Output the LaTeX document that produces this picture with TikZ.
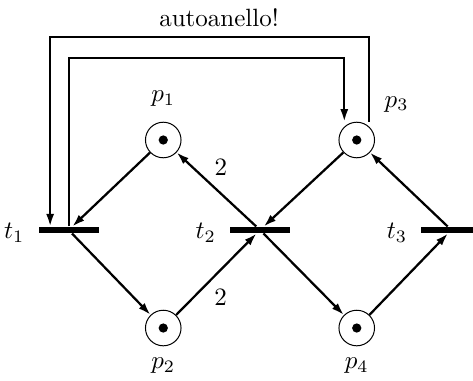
\documentclass[tikz,border=0pt]{standalone}
\usetikzlibrary{positioning,arrows.meta,calc}

\begin{document}
\begin{tikzpicture}[>={Latex[length=5pt,width=3.2pt]},
  place/.style={circle,draw,minimum size=0.5cm,inner sep=0pt,
    path picture={\fill (path picture bounding box.center) circle (0.065cm);}},
  transition/.style={rectangle,fill=black,inner sep=0pt,minimum width=0.84cm,minimum height=2.4pt},
  arc/.style={->,line width=0.9pt},
  weight/.style={auto,swap,inner sep=2pt}]
\useasboundingbox (-3.655,-2.109) rectangle (2.994,3.233);

% transitions
\node[transition] (t1) at (-2.69,0) {};
\node[transition] (t2) at (0,0) {};
\node[transition] (t3) at (2.69,0) {};

% places with one token each
\node[place] (p1) at (-1.36,1.265) {};
\node[place] (p3) at (1.36,1.265) {};
\node[place] (p2) at (-1.36,-1.378) {};
\node[place] (p4) at (1.36,-1.378) {};

\node[above=2.5pt of p1] (lp1) {$p_1$};
\node[below=1pt of p2] (lp2) {$p_2$};
\node[above right=3.5pt of p3] (lp3) {$p_3$};
\node[below=1pt of p4] (lp4) {$p_4$};
\node[left=2pt of t1,yshift=-1pt] (lt1) {$t_1$};
\node[left=2pt of t2,yshift=-1pt] (lt2) {$t_2$};
\node[left=2pt of t3,yshift=-1pt] (lt3) {$t_3$};

\draw[arc] (p1) -- (t1);
\draw[arc] (t2) -- node[weight,pos=0.6] (w1) {2} (p1);
\draw[arc] (p3) -- (t2);
\draw[arc] (t3) -- (p3);
\draw[arc] (t1) -- (p2);
\draw[arc] (p2) -- node[weight,pos=0.4] (w2) {2} (t2);
\draw[arc] (t2) -- (p4);
\draw[arc] (p4) -- (t3);

% self loop
\draw[arc] ([xshift=0.175cm]p3.north) |- (0,2.713) -| ([xshift=-0.26cm]t1.north);
\draw[arc] (t1.north) |- (0,2.418) -| ([xshift=-0.175cm]p3.north);
\node[above=0.5pt] (loop) at (-0.576,2.713) {autoanello!};
\end{tikzpicture}
\end{document}
